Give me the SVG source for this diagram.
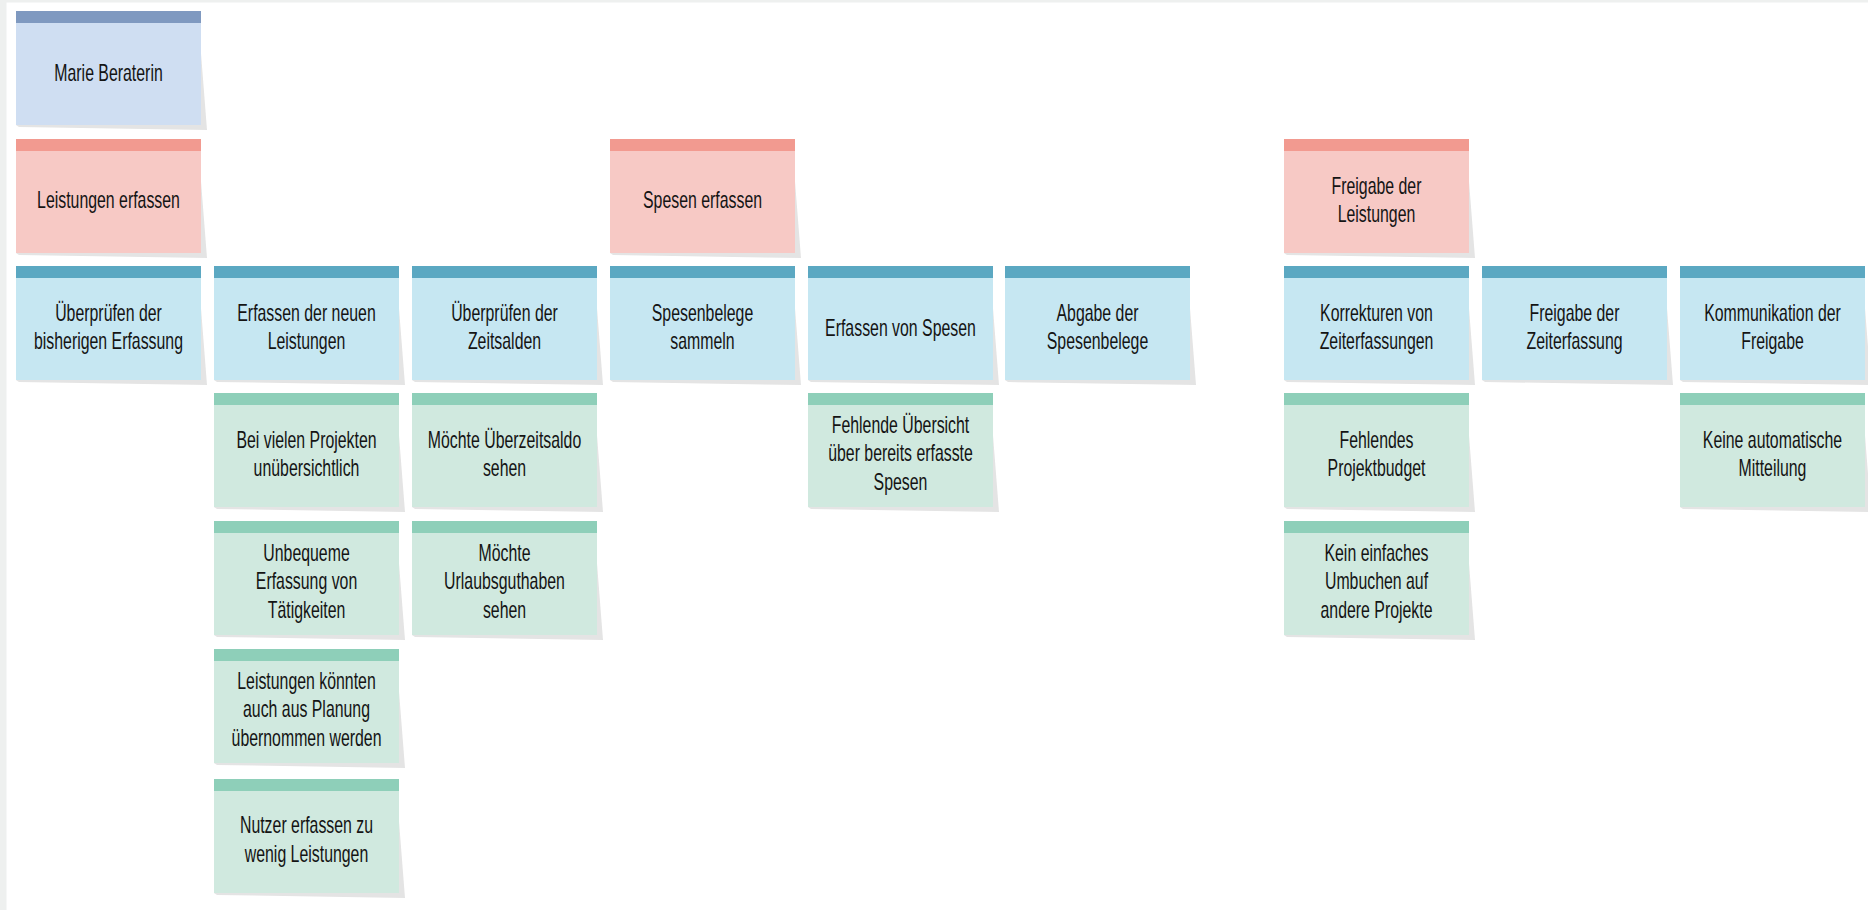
<svg xmlns="http://www.w3.org/2000/svg" width="1868" height="910" viewBox="0 0 1868 910">
<style>
.sh{fill:#e4e4e4}
.pb{fill:#cfdef2}.ph{fill:#7f99c0}
.rb{fill:#f7c9c5}.rh{fill:#f29a90}
.bb{fill:#c6e7f2}.bh{fill:#5ba8c2}
.gb{fill:#d0e9df}.gh{fill:#8ecfb9}
text{font-family:"Liberation Sans",Arial,sans-serif;font-size:23px;fill:#141414;text-anchor:middle}
</style>
<rect x="0" y="0" width="1868" height="910" fill="#ffffff"/>
<rect x="0" y="0" width="1868" height="2.5" fill="#eef0ef"/>
<rect x="0" y="0" width="6.5" height="910" fill="#eef0ef"/>

<g id="marie">
<polygon class="sh" points="198,15 207,130 19,127 16,125"/>
<rect class="pb" x="16" y="11" width="185" height="114"/><rect class="ph" x="16" y="11" width="185" height="12"/>
<g transform="translate(108.5 0) scale(0.69 1)"><text y="81">Marie Beraterin</text></g>
</g>

<g id="act-leistungen">
<polygon class="sh" points="198,143 207,258 19,255 16,253"/>
<rect class="rb" x="16" y="139" width="185" height="114"/><rect class="rh" x="16" y="139" width="185" height="12"/>
<g transform="translate(108.5 0) scale(0.69 1)"><text y="208">Leistungen erfassen</text></g>
</g>
<g id="act-spesen">
<polygon class="sh" points="792,143 801,258 613,255 610,253"/>
<rect class="rb" x="610" y="139" width="185" height="114"/><rect class="rh" x="610" y="139" width="185" height="12"/>
<g transform="translate(702.5 0) scale(0.69 1)"><text y="208">Spesen erfassen</text></g>
</g>
<g id="act-freigabe">
<polygon class="sh" points="1466,143 1475,258 1287,255 1284,253"/>
<rect class="rb" x="1284" y="139" width="185" height="114"/><rect class="rh" x="1284" y="139" width="185" height="12"/>
<g transform="translate(1376.5 0) scale(0.69 1)"><text y="194">Freigabe der</text><text y="222.5">Leistungen</text></g>
</g>

<g id="s-ueberpruefen">
<polygon class="sh" points="198,270 207,385 19,382 16,380"/>
<rect class="bb" x="16" y="266" width="185" height="114"/><rect class="bh" x="16" y="266" width="185" height="12"/>
<g transform="translate(108.5 0) scale(0.69 1)"><text y="321">Überprüfen der</text><text y="349.5">bisherigen Erfassung</text></g>
</g>
<g id="s-erfassen">
<polygon class="sh" points="396,270 405,385 217,382 214,380"/>
<rect class="bb" x="214" y="266" width="185" height="114"/><rect class="bh" x="214" y="266" width="185" height="12"/>
<g transform="translate(306.5 0) scale(0.69 1)"><text y="321">Erfassen der neuen</text><text y="349.5">Leistungen</text></g>
</g>
<g id="s-zeitsalden">
<polygon class="sh" points="594,270 603,385 415,382 412,380"/>
<rect class="bb" x="412" y="266" width="185" height="114"/><rect class="bh" x="412" y="266" width="185" height="12"/>
<g transform="translate(504.5 0) scale(0.69 1)"><text y="321">Überprüfen der</text><text y="349.5">Zeitsalden</text></g>
</g>
<g id="s-belege">
<polygon class="sh" points="792,270 801,385 613,382 610,380"/>
<rect class="bb" x="610" y="266" width="185" height="114"/><rect class="bh" x="610" y="266" width="185" height="12"/>
<g transform="translate(702.5 0) scale(0.69 1)"><text y="321">Spesenbelege</text><text y="349.5">sammeln</text></g>
</g>
<g id="s-erfassen-spesen">
<polygon class="sh" points="990,270 999,385 811,382 808,380"/>
<rect class="bb" x="808" y="266" width="185" height="114"/><rect class="bh" x="808" y="266" width="185" height="12"/>
<g transform="translate(900.5 0) scale(0.69 1)"><text y="336">Erfassen von Spesen</text></g>
</g>
<g id="s-abgabe">
<polygon class="sh" points="1187,270 1196,385 1008,382 1005,380"/>
<rect class="bb" x="1005" y="266" width="185" height="114"/><rect class="bh" x="1005" y="266" width="185" height="12"/>
<g transform="translate(1097.5 0) scale(0.69 1)"><text y="321">Abgabe der</text><text y="349.5">Spesenbelege</text></g>
</g>
<g id="s-korrekturen">
<polygon class="sh" points="1466,270 1475,385 1287,382 1284,380"/>
<rect class="bb" x="1284" y="266" width="185" height="114"/><rect class="bh" x="1284" y="266" width="185" height="12"/>
<g transform="translate(1376.5 0) scale(0.69 1)"><text y="321">Korrekturen von</text><text y="349.5">Zeiterfassungen</text></g>
</g>
<g id="s-freigabe-zeit">
<polygon class="sh" points="1664,270 1673,385 1485,382 1482,380"/>
<rect class="bb" x="1482" y="266" width="185" height="114"/><rect class="bh" x="1482" y="266" width="185" height="12"/>
<g transform="translate(1574.5 0) scale(0.69 1)"><text y="321">Freigabe der</text><text y="349.5">Zeiterfassung</text></g>
</g>
<g id="s-kommunikation">
<polygon class="sh" points="1862,270 1871,385 1683,382 1680,380"/>
<rect class="bb" x="1680" y="266" width="185" height="114"/><rect class="bh" x="1680" y="266" width="185" height="12"/>
<g transform="translate(1772.5 0) scale(0.69 1)"><text y="321">Kommunikation der</text><text y="349.5">Freigabe</text></g>
</g>

<g id="p-projekte">
<polygon class="sh" points="396,397 405,512 217,509 214,507"/>
<rect class="gb" x="214" y="393" width="185" height="114"/><rect class="gh" x="214" y="393" width="185" height="12"/>
<g transform="translate(306.5 0) scale(0.69 1)"><text y="448">Bei vielen Projekten</text><text y="476.5">unübersichtlich</text></g>
</g>
<g id="p-ueberzeit">
<polygon class="sh" points="594,397 603,512 415,509 412,507"/>
<rect class="gb" x="412" y="393" width="185" height="114"/><rect class="gh" x="412" y="393" width="185" height="12"/>
<g transform="translate(504.5 0) scale(0.69 1)"><text y="448">Möchte Überzeitsaldo</text><text y="476.5">sehen</text></g>
</g>
<g id="p-uebersicht-spesen">
<polygon class="sh" points="990,397 999,512 811,509 808,507"/>
<rect class="gb" x="808" y="393" width="185" height="114"/><rect class="gh" x="808" y="393" width="185" height="12"/>
<g transform="translate(900.5 0) scale(0.69 1)"><text y="433">Fehlende Übersicht</text><text y="461.5">über bereits erfasste</text><text y="490">Spesen</text></g>
</g>
<g id="p-budget">
<polygon class="sh" points="1466,397 1475,512 1287,509 1284,507"/>
<rect class="gb" x="1284" y="393" width="185" height="114"/><rect class="gh" x="1284" y="393" width="185" height="12"/>
<g transform="translate(1376.5 0) scale(0.69 1)"><text y="448">Fehlendes</text><text y="476.5">Projektbudget</text></g>
</g>
<g id="p-mitteilung">
<polygon class="sh" points="1862,397 1871,512 1683,509 1680,507"/>
<rect class="gb" x="1680" y="393" width="185" height="114"/><rect class="gh" x="1680" y="393" width="185" height="12"/>
<g transform="translate(1772.5 0) scale(0.69 1)"><text y="448">Keine automatische</text><text y="476.5">Mitteilung</text></g>
</g>

<g id="p-unbequem">
<polygon class="sh" points="396,525 405,640 217,637 214,635"/>
<rect class="gb" x="214" y="521" width="185" height="114"/><rect class="gh" x="214" y="521" width="185" height="12"/>
<g transform="translate(306.5 0) scale(0.69 1)"><text y="561">Unbequeme</text><text y="589.5">Erfassung von</text><text y="618">Tätigkeiten</text></g>
</g>
<g id="p-urlaub">
<polygon class="sh" points="594,525 603,640 415,637 412,635"/>
<rect class="gb" x="412" y="521" width="185" height="114"/><rect class="gh" x="412" y="521" width="185" height="12"/>
<g transform="translate(504.5 0) scale(0.69 1)"><text y="561">Möchte</text><text y="589.5">Urlaubsguthaben</text><text y="618">sehen</text></g>
</g>
<g id="p-umbuchen">
<polygon class="sh" points="1466,525 1475,640 1287,637 1284,635"/>
<rect class="gb" x="1284" y="521" width="185" height="114"/><rect class="gh" x="1284" y="521" width="185" height="12"/>
<g transform="translate(1376.5 0) scale(0.69 1)"><text y="561">Kein einfaches</text><text y="589.5">Umbuchen auf</text><text y="618">andere Projekte</text></g>
</g>

<g id="p-planung">
<polygon class="sh" points="396,653 405,768 217,765 214,763"/>
<rect class="gb" x="214" y="649" width="185" height="114"/><rect class="gh" x="214" y="649" width="185" height="12"/>
<g transform="translate(306.5 0) scale(0.69 1)"><text y="689">Leistungen könnten</text><text y="717.5">auch aus Planung</text><text y="746">übernommen werden</text></g>
</g>
<g id="p-wenig">
<polygon class="sh" points="396,783 405,898 217,895 214,893"/>
<rect class="gb" x="214" y="779" width="185" height="114"/><rect class="gh" x="214" y="779" width="185" height="12"/>
<g transform="translate(306.5 0) scale(0.69 1)"><text y="833.5">Nutzer erfassen zu</text><text y="862">wenig Leistungen</text></g>
</g>

<g id="connectors"></g>
</svg>
